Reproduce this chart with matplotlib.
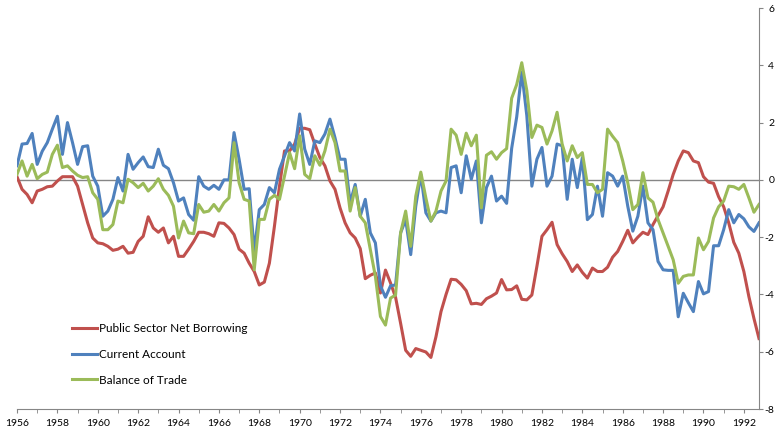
import numpy as np
import matplotlib
matplotlib.use("Agg")
import matplotlib.pyplot as plt

# quarterly data, 1956 Q1 - 1992 Q4 (% of GDP)
psnb = [0.11, -0.33, -0.51, -0.8, -0.39, -0.33, -0.24, -0.22, -0.04, 0.11,
        0.11, 0.11, -0.22, -0.86, -1.5, -2.03, -2.2, -2.23, -2.32, -2.46,
        -2.42, -2.32, -2.56, -2.53, -2.15, -1.97, -1.29, -1.68, -1.83, -1.68,
        -2.2, -1.97, -2.67, -2.67, -2.42, -2.15, -1.83, -1.83, -1.88, -1.97,
        -1.5, -1.52, -1.68, -1.91, -2.42, -2.56, -2.91, -3.2, -3.67, -3.57,
        -2.91, -1.62, -0.22, 1.01, 1.01, 1.25, 1.8, 1.8, 1.75, 1.25,
        0.78, 0.49, -0.04, -0.33, -0.98, -1.5, -1.85, -2.03, -2.4, -3.45,
        -3.33, -3.25, -3.95, -3.15, -3.6, -4.1, -5.01, -5.95, -6.16, -5.89,
        -5.95, -6.01, -6.2, -5.48, -4.6, -4.0, -3.47, -3.49, -3.65, -3.87,
        -4.33, -4.31, -4.35, -4.15, -4.06, -3.95, -3.48, -3.84, -3.83, -3.7,
        -4.17, -4.19, -4.02, -3.02, -1.97, -1.74, -1.48, -2.26, -2.58, -2.85,
        -3.2, -2.97, -3.23, -3.43, -3.08, -3.2, -3.2, -3.05, -2.7, -2.5,
        -2.15, -1.76, -2.2, -2.0, -1.83, -1.91, -1.56, -1.25, -0.94, -0.39,
        0.19, 0.66, 1.01, 0.95, 0.66, 0.6, 0.11, -0.08, -0.12, -0.59,
        -0.94, -1.5, -2.18, -2.56, -3.2, -4.08, -4.84, -5.54]

current_account = [0.49, 1.25, 1.27, 1.62, 0.54, 1.0, 1.3, 1.77, 2.22, 0.89,
                   2.0, 1.3, 0.54, 1.16, 1.19, 0.13, -0.22, -1.27, -1.09, -0.68,
                   0.08, -0.39, 0.89, 0.37, 0.6, 0.8, 0.46, 0.43, 1.07, 0.51,
                   0.39, -0.1, -0.74, -0.63, -1.21, -1.41, 0.11, -0.22, -0.33, -0.19,
                   -0.33, 0.0, 0.0, 1.65, 0.72, -0.33, -0.31, -2.5, -1.04, -0.86,
                   -0.27, -0.45, 0.37, 0.84, 1.3, 1.01, 2.3, 1.07, 0.54, 1.36,
                   1.3, 1.6, 2.12, 1.47, 0.72, 0.72, -0.8, -0.16, -1.27, -0.68,
                   -1.85, -2.2, -3.7, -4.1, -3.7, -3.67, -1.85, -1.39, -2.61, -0.92,
                   0.19, -1.15, -1.44, -1.15, -1.09, -1.15, 0.43, 0.49, -0.45, 0.84,
                   0.02, 0.66, -1.5, -0.27, 0.13, -0.74, -0.57, -0.82, 1.1, 2.2,
                   3.76, 2.24, -0.22, 0.72, 1.13, -0.22, 0.13, 1.25, 1.19, -0.68,
                   0.72, -0.27, 0.78, -1.39, -1.21, -0.22, -1.27, 0.25, 0.13, -0.22,
                   0.13, -0.92, -1.79, -1.27, -0.22, -1.5, -1.74, -2.85, -3.14, -3.16,
                   -3.16, -4.78, -3.96, -4.29, -4.6, -3.55, -3.98, -3.9, -2.3, -2.3,
                   -1.74, -1.04, -1.5, -1.21, -1.36, -1.64, -1.8, -1.5]

balance_of_trade = [0.19, 0.66, 0.13, 0.54, 0.04, 0.19, 0.27, 0.89, 1.21, 0.43,
                    0.49, 0.31, 0.16, 0.08, 0.11, -0.45, -0.68, -1.74, -1.74, -1.56,
                    -0.74, -0.8, 0.02, -0.1, -0.27, -0.12, -0.39, -0.22, 0.04, -0.33,
                    -0.54, -0.92, -2.03, -1.44, -1.85, -1.88, -0.86, -1.13, -1.09, -0.86,
                    -1.09, -0.8, -0.63, 1.3, -0.1, -0.68, -0.74, -3.14, -1.38, -1.38,
                    -0.68, -0.54, -0.68, 0.13, 0.95, 0.39, 1.54, 0.19, 0.04, 0.84,
                    0.51, 1.01, 1.77, 1.3, 0.31, 0.31, -1.09, -0.27, -1.27, -1.5,
                    -2.44, -3.37, -4.77, -5.07, -4.13, -4.02, -1.85, -1.09, -2.32, -0.57,
                    0.27, -0.63, -1.44, -1.09, -0.39, -0.04, 1.77, 1.56, 0.89, 1.63,
                    1.19, 1.56, -0.98, 0.86, 0.98, 0.72, 0.95, 1.09, 2.85, 3.33,
                    4.09, 3.12, 1.48, 1.91, 1.83, 1.25, 1.71, 2.36, 1.25, 0.66,
                    1.19, 0.78, 0.95, -0.16, -0.16, -0.45, -0.33, 1.77, 1.52, 1.3,
                    0.66, -0.1, -1.04, -0.86, 0.25, -0.63, -0.78, -1.39, -1.85, -2.32,
                    -2.79, -3.61, -3.37, -3.32, -3.32, -2.03, -2.44, -2.15, -1.33, -0.94,
                    -0.74, -0.22, -0.24, -0.33, -0.16, -0.63, -1.13, -0.86]

labels = ['Public Sector Net Borrowing', 'Current Account', 'Balance of Trade']
colors = ['#C0504D', '#4F81BD', '#9BBB59']

start_year = 1956
year_ticks = list(range(1956, 1993, 2))

x = start_year + np.arange(len(psnb)) / 4.0  # quarters

plt.rcParams['font.family'] = ['Lato', 'DejaVu Sans']
plt.rcParams['axes.unicode_minus'] = False

fig = plt.figure(figsize=(7.78, 4.36), dpi=100)
ax = fig.add_axes([17/778, 27/436, 742/778, 401/436])

ax.axhline(0, color='#868686', lw=1.0, zorder=1)
for data, lab, col in zip([psnb, current_account, balance_of_trade], labels, colors):
    ax.plot(x, data, color=col, lw=2.2, label=lab, zorder=2,
            solid_joinstyle='round')

ax.set_xlim(start_year, x[-1])
ax.set_ylim(-8, 6)

# axes styling, Excel like
for s in ['top', 'left']:
    ax.spines[s].set_visible(False)
ax.spines['right'].set_color('#868686')
ax.spines['bottom'].set_color('#868686')

ax.set_xticks(year_ticks)
ax.set_xticks(range(1957, 1993, 2), minor=True)
ax.tick_params(axis='x', which='both', direction='out', length=3,
               color='#868686', labelsize=7.5, pad=4)

ax.yaxis.tick_right()
ax.set_yticks(range(-8, 7, 2))
ax.tick_params(axis='y', direction='out', length=3, color='#868686',
               labelsize=7.5, pad=8)
for t in ax.yaxis.get_major_ticks():
    t.label2.set_horizontalalignment('right')

leg = fig.legend(loc='upper left', bbox_to_anchor=(72/778, 1 - 323/436),
                 frameon=False, fontsize=8.5, handlelength=2.1,
                 handletextpad=0.15, labelspacing=1.25, borderpad=0,
                 borderaxespad=0)

fig.savefig('out.png', dpi=100)
